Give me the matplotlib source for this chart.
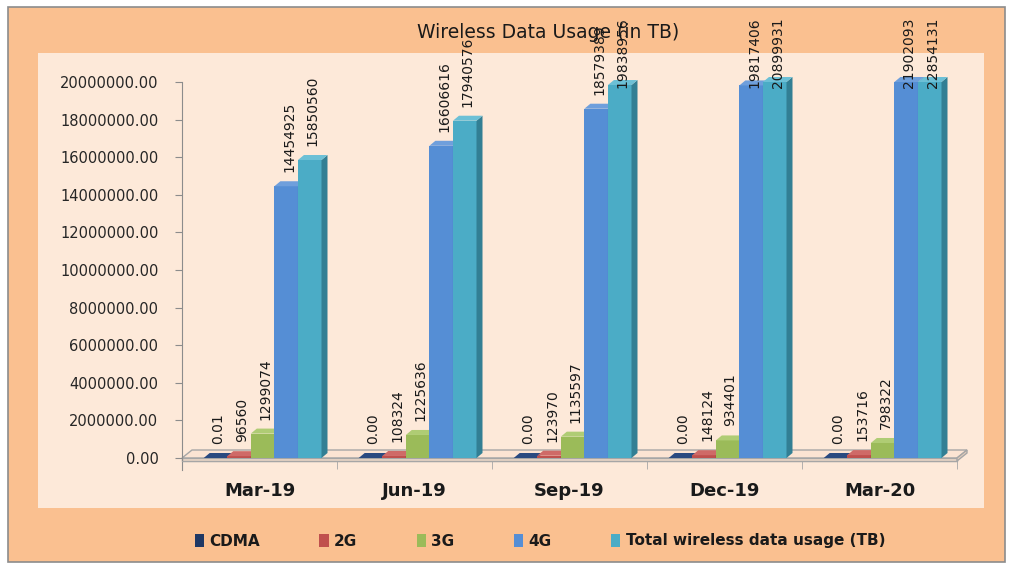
import matplotlib
matplotlib.use('Agg')
import matplotlib.pyplot as plt
import matplotlib.transforms as mtransforms
from matplotlib.patches import Polygon, Rectangle, Patch

# data
quarters = ['Mar-19', 'Jun-19', 'Sep-19', 'Dec-19', 'Mar-20']
series = ['CDMA', '2G', '3G', '4G', 'Total wireless data usage (TB)']
cdma = [0.01, 0.00, 0.00, 0.00, 0.00]
g2 = [96560, 108324, 123970, 148124, 153716]
g3 = [1299074, 1225636, 1135597, 934401, 798322]
g4 = [14454925, 16606616, 18579389, 19817406, 21902093]
total = [15850560, 17940576, 19838956, 20899931, 22854131]
yticks = [0, 2000000, 4000000, 6000000, 8000000, 10000000,
          12000000, 14000000, 16000000, 18000000, 20000000]

values = [cdma, g2, g3, g4, total]
label_fmt = ['{:.2f}', '{:.0f}', '{:.0f}', '{:.0f}', '{:.0f}']
colors = ['#1F3864', '#C0504D', '#9BBB59', '#558ED5', '#4BACC6']
sides = ['#14264a', '#8f3a38', '#718a40', '#3a68a3', '#327f94']
tops = ['#2a4a80', '#cf6a67', '#afcc74', '#6f9fdc', '#6cc0d6']

W, H = 1011, 566
ymax = 20000000
ymin = -638000

fig = plt.figure(figsize=(W / 100, H / 100), dpi=100)
fig.patch.set_facecolor('white')

# chart area and plot area backgrounds
fig.add_artist(Rectangle((8 / W, 1 - 562 / H), (1005 - 8) / W, (562 - 7) / H,
                         transform=fig.transFigure, facecolor='#FAC090',
                         edgecolor='#8c8c8c', linewidth=1.2, zorder=-10))
fig.add_artist(Rectangle((38 / W, 1 - 508 / H), (984 - 38) / W, (508 - 53) / H,
                         transform=fig.transFigure, facecolor='#FDE9D9',
                         edgecolor='none', zorder=-9))

ax = fig.add_axes([182 / W, 1 - 470 / H, 775 / W, (470 - 82) / H])
ax.set_facecolor('none')
ax.set_xlim(0, 5)
ax.set_ylim(ymin, ymax)

# pixel -> data sizes
xpp = 5 / 775
ypp = (ymax - ymin) / (470 - 82)

# floor of the 3d chart
fdx, fdy = 10 * xpp, 8 * ypp
slab = 3 * ypp
ax.add_patch(Polygon([(0, 0), (5, 0), (5 + fdx, fdy), (fdx, fdy)], closed=True,
                     facecolor='#FBE4D3', edgecolor='#a6a6a6', lw=1, zorder=1, clip_on=False))
ax.add_patch(Polygon([(0, 0), (5, 0), (5, -slab), (0, -slab)], closed=True,
                     facecolor='#EFD9C8', edgecolor='#a6a6a6', lw=1, zorder=1, clip_on=False))
ax.add_patch(Polygon([(5, 0), (5 + fdx, fdy), (5 + fdx, fdy - slab), (5, -slab)], closed=True,
                     facecolor='#E6CFBD', edgecolor='#a6a6a6', lw=1, zorder=1, clip_on=False))

# bars
bw = 0.152
dx, dy = 6 * xpp, 5 * ypp
fs_lab = 10
fontpx = fs_lab * 100 / 72
blend = mtransforms.blended_transform_factory(ax.transData, fig.transFigure)
top_limit = H - 17

for i in range(len(quarters)):
    for j, vals in enumerate(values):
        v = vals[i]
        h = min(v, ymax)
        x0 = i + 0.5 + (j - 2.5) * bw + 0.02
        z = 2 + i * 10 + j
        ax.add_patch(Rectangle((x0, 0), bw, h, facecolor=colors[j],
                               edgecolor='none', zorder=z, clip_on=False))
        ax.add_patch(Polygon([(x0 + bw, 0), (x0 + bw + dx, dy), (x0 + bw + dx, h + dy), (x0 + bw, h)],
                             closed=True, facecolor=sides[j], edgecolor='none', zorder=z, clip_on=False))
        ax.add_patch(Polygon([(x0, h), (x0 + dx, h + dy), (x0 + bw + dx, h + dy), (x0 + bw, h)],
                             closed=True, facecolor=tops[j], edgecolor='none', zorder=z, clip_on=False))

        # value label, pushed down when it would run off the chart
        s = label_fmt[j].format(v)
        L = len(s) * 0.636 * fontpx
        bottom = ax.transData.transform((x0, h))[1] + 5 + 9
        if bottom + L > top_limit:
            bottom = top_limit - L
        ax.text(x0 + bw / 2 + dx / 2, bottom / H, s, transform=blend, rotation=90,
                ha='center', va='bottom', fontsize=fs_lab, color='#1a1a1a', zorder=100)

# axes styling
for sp in ['top', 'right']:
    ax.spines[sp].set_visible(False)
ax.spines['left'].set_color('#8c8c8c')
ax.spines['bottom'].set_color('#a6a6a6')
ax.spines['bottom'].set_position(('data', -slab))

ax.set_yticks(yticks)
ax.set_yticklabels(['{:.2f}'.format(t) for t in yticks])
ax.tick_params(axis='y', direction='out', length=5, color='#8c8c8c',
               labelsize=10.5, labelcolor='#262626', pad=12)

ax.set_xticks([i + 0.5 for i in range(len(quarters))])
ax.set_xticklabels(quarters, fontweight='bold')
ax.set_xticks(range(len(quarters) + 1), minor=True)
ax.tick_params(axis='x', which='major', length=0, labelsize=13, labelcolor='#1a1a1a', pad=15)
ax.tick_params(axis='x', which='minor', direction='out', length=6, color='#a6a6a6')

fig.text(548 / W, 1 - 32 / H, 'Wireless Data Usage (in TB)', ha='center', va='center',
         fontsize=13.5, color='#1a1a1a')

handles = [Patch(facecolor=c, edgecolor='none', label=s) for c, s in zip(colors, series)]
leg = fig.legend(handles=handles, loc='center', bbox_to_anchor=(540 / W, 25 / H), ncol=5,
                 frameon=False, handlelength=0.6, handleheight=0.9, handletextpad=0.35,
                 columnspacing=3.9, prop={'size': 11, 'weight': 'bold'})
for t in leg.get_texts():
    t.set_color('#1a1a1a')

plt.savefig('out.png', dpi=100)
plt.close()
